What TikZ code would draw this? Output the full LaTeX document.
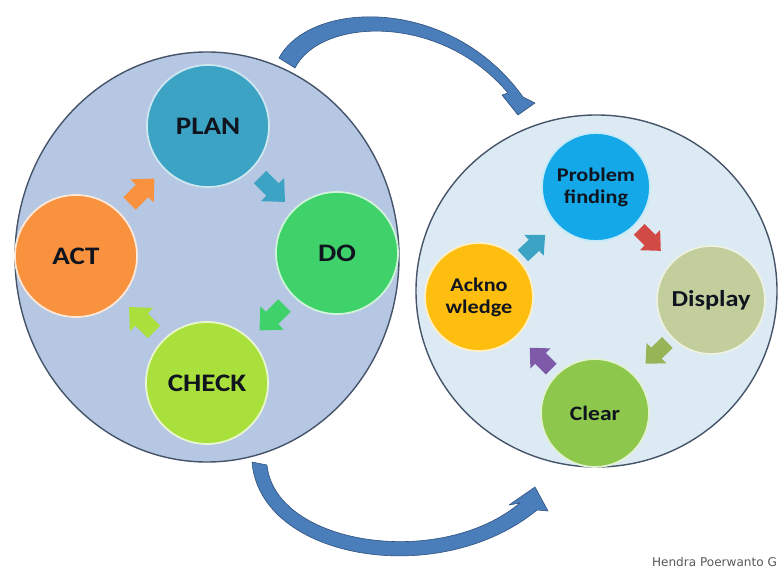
\documentclass[tikz,border=0pt]{standalone}
\usepackage{fontspec}
\newfontfamily\lblfont{Carlito}[FakeStretch=1.15]
\newfontfamily\creditfont{DejaVu Sans}
\usetikzlibrary{shapes.geometric,calc}
\definecolor{discblue}{HTML}{B5C7E3}
\definecolor{discpale}{HTML}{DCEAF4}
\definecolor{discline}{HTML}{46546A}
\definecolor{labelink}{HTML}{10141F}
\definecolor{planblue}{HTML}{3CA3C4}
\definecolor{dogreen}{HTML}{3FD26B}
\definecolor{checklime}{HTML}{A9E03C}
\definecolor{actorange}{HTML}{F8923F}
\definecolor{probblue}{HTML}{14A8E8}
\definecolor{dispolive}{HTML}{C2CF9C}
\definecolor{cleargreen}{HTML}{8DC84C}
\definecolor{ackamber}{HTML}{FDBE10}
\definecolor{arrred}{HTML}{D24A45}
\definecolor{arrolive}{HTML}{97B557}
\definecolor{arrpurple}{HTML}{7F5AA8}
\definecolor{bigarrfill}{HTML}{4A7EBB}
\definecolor{bigarrline}{HTML}{2E4F7C}
\colorlet{creditgray}{black!65}

\begin{document}
\begin{tikzpicture}[x=0.03cm, y=-0.03cm,
    bigdisc/.style={ellipse, draw=discline, line width=1.2pt, inner sep=0},
    stage/.style={circle, minimum size=3.66cm, inner sep=0, line width=1.5pt, text=labelink, align=center,
        font=\lblfont\bfseries\fontsize{21.5}{23}\selectfont},
    substage/.style={stage, minimum size=3.24cm, font=\lblfont\bfseries\fontsize{16.5}{19}\selectfont},
    bigarrow/.style={fill=bigarrfill, draw=bigarrline, line width=0.5pt, line join=round}]
    \fill[white] (0,0) rectangle (783,572);
    \useasboundingbox (0,0) rectangle (783,572);
    % the two discs
    \node[bigdisc, fill=discblue, minimum width=11.52cm, minimum height=12.3cm] (pdca) at (207,257) {};
    \node[bigdisc, fill=discpale, minimum width=10.83cm, minimum height=10.56cm] (pdad) at (596.5,291) {};
    % big curved arrows
    \filldraw[bigarrow] (279,58) .. controls (310,0) and (450,-5) .. (523,97) -- (535,103) -- (518,115) -- (502,95)
        -- (508,93) .. controls (440,12) and (320,18) .. (295,68) -- cycle;
    \filldraw[bigarrow] (252,462) .. controls (260,560) and (440,590) .. (537,510) -- (548,511) -- (535,487) -- (509,505)
        -- (520,503) .. controls (440,570) and (275,545) .. (267,465) -- cycle;
    % left cycle
    \node[stage, fill=planblue, draw=planblue!25!white] (plan) at (208,126) {PLAN};
    \node[stage, fill=dogreen, draw=dogreen!25!white] (do) at (337,253) {DO};
    \node[stage, fill=checklime, draw=checklime!25!white] (check) at (207,383) {CHECK};
    \node[stage, fill=actorange, draw=actorange!20!white] (act) at (76,256) {ACT};
    % right cycle
    \node[substage, fill=probblue, draw=probblue!25!white] (prob) at (596,187) {Problem\\finding};
    \node[substage, fill=dispolive, draw=dispolive!30!white, font=\lblfont\bfseries\fontsize{19.5}{21}\selectfont] (disp) at (711,300) {Display};
    \node[substage, fill=cleargreen, draw=cleargreen!25!white, font=\lblfont\bfseries\fontsize{17.5}{20}\selectfont] (clear) at (595,413) {Clear};
    \node[substage, fill=ackamber, draw=ackamber!25!white] (ack) at (479,297) {Ackno\\wledge};
    % small block arrows between the stages
    \foreach \from/\to/\ang/\col in {act/plan/45/actorange, plan/do/-45/planblue, do/check/-135/dogreen, check/act/135/checklime}{
        \fill[\col, shift={($(\from)!0.5!(\to)$)}, rotate=\ang, scale=1.1] (-16,-8) -- (0,-8) -- (0,-15) -- (16,0) -- (0,15) -- (0,8) -- (-16,8) -- cycle;
    }
    \foreach \from/\to/\ang/\col in {ack/prob/43/planblue, prob/disp/-45/arrred, disp/clear/-136/arrolive, clear/ack/135/arrpurple}{
        \fill[\col, shift={($(\from)!0.47!(\to)$)}, rotate=\ang, scale=0.95] (-16,-8) -- (0,-8) -- (0,-15) -- (16,0) -- (0,15) -- (0,8) -- (-16,8) -- cycle;
    }
    \node[anchor=east, text=creditgray, font=\creditfont\fontsize{10.3}{12}\selectfont] (credit) at (781,562) {Hendra Poerwanto G};
\end{tikzpicture}
\end{document}
